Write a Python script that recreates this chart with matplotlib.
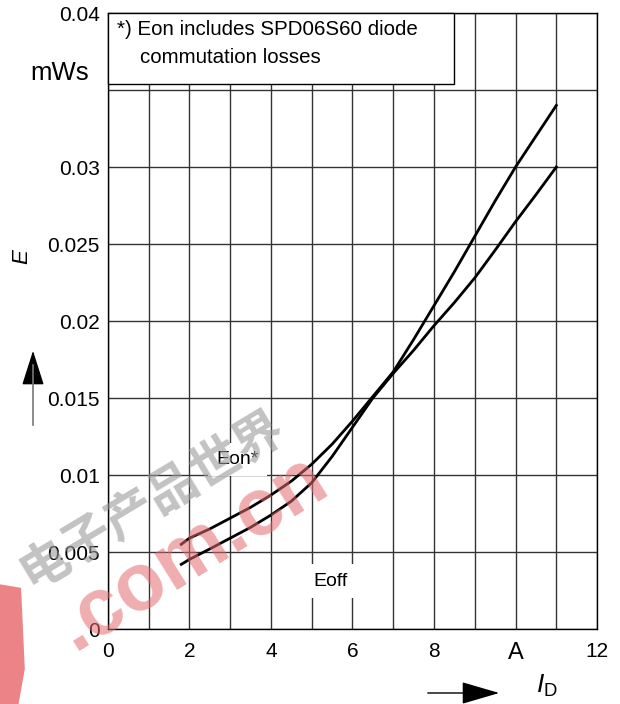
import numpy as np
import matplotlib
matplotlib.use('Agg')
import matplotlib.pyplot as plt
from matplotlib.patches import Rectangle, Polygon
from matplotlib.lines import Line2D

plt.rcParams['font.family'] = ['Liberation Sans', 'DejaVu Sans']
plt.rcParams['mathtext.fontset'] = 'custom'
plt.rcParams['mathtext.rm'] = 'Liberation Sans'
plt.rcParams['mathtext.it'] = 'Liberation Sans:italic'

# drain current (A) and switching energy (mWs)
i_d = [1.8, 2.0, 2.5, 3.0, 3.5, 4.0, 4.5, 5.0, 5.5, 6.0, 6.5,
       7.0, 7.5, 8.0, 8.5, 9.0, 9.5, 10.0, 10.5, 11.0]
e_on = [0.0055, 0.0059, 0.0065, 0.0072, 0.0079, 0.0087, 0.0096, 0.0107, 0.0120, 0.0135, 0.0151,
        0.0167, 0.0188, 0.0210, 0.0232, 0.0255, 0.0278, 0.0300, 0.0320, 0.0340]
e_off = [0.0042, 0.00452, 0.0052, 0.0059, 0.0066, 0.0074, 0.0083, 0.0095, 0.0112, 0.0131, 0.0150,
         0.0166, 0.0181, 0.0197, 0.0212, 0.0228, 0.0246, 0.02645, 0.0282, 0.0300]

x_ticks = [0, 2, 4, 6, 8, 10, 12]
x_labels = ['0', '2', '4', '6', '8', 'A', '12']
y_ticks = [0, 0.005, 0.01, 0.015, 0.02, 0.025, 0.03, 0.035, 0.04]
y_labels = ['0', '0.005', '0.01', '0.015', '0.02', '0.025', '0.03', '', '0.04']
note = '*) Eon includes SPD06S60 diode\n    commutation losses'

fig = plt.figure(figsize=(6.2, 7.04), dpi=100)
ax = fig.add_axes([0.174, 0.1065, 0.789, 0.875])

ax.set_xlim(0, 12)
ax.set_ylim(0, 0.04)
ax.set_xticks(x_ticks)
ax.set_xticklabels(x_labels, fontsize=15)
ax.set_xticks(np.arange(0, 13, 1), minor=True)
ax.set_yticks(y_ticks)
ax.set_yticklabels(y_labels, fontsize=15)
ax.tick_params(which='both', length=0)
ax.tick_params(axis='x', pad=9)
ax.tick_params(axis='y', pad=6)
ax.get_xticklabels()[5].set_fontsize(17)
ax.grid(which='both', color='#333333', linewidth=1.0)
ax.set_axisbelow(True)
for s in ax.spines.values():
    s.set_linewidth(1.0)

ax.plot(i_d, e_on, color='black', lw=2.0, zorder=4, solid_joinstyle='round')
ax.plot(i_d, e_off, color='black', lw=2.0, zorder=4, solid_joinstyle='round')

bbox = dict(facecolor='white', edgecolor='none', pad=6)
ax.text(3.19, 0.0110, 'Eon*', fontsize=14, ha='center', va='center', bbox=bbox, zorder=3)
ax.text(5.45, 0.0031, 'Eoff', fontsize=14, ha='center', va='center', bbox=bbox, zorder=3)

# note box in the top left corner
ax.add_patch(Rectangle((0, 0.03539), 8.49, 0.00461, facecolor='white',
                       edgecolor='black', lw=1.0, zorder=5, clip_on=False))
ax.text(0.22, 0.0380, note, fontsize=14.8, va='center', ha='left', zorder=6,
        linespacing=1.62)

ax.text(-0.098, 0.0361, 'mWs', transform=ax.get_yaxis_transform(),
        fontsize=18.5, ha='center', va='center')

fig.text(0.036, 0.635, '$E$', fontsize=16, rotation=90, ha='center', va='center')
fig.add_artist(Line2D([33 / 620, 33 / 620], [(704 - 425) / 704, (704 - 365) / 704],
                      color='#777777', lw=1.2))
ax.annotate('', xy=(33, 704 - 348), xytext=(33, 704 - 368), xycoords='figure pixels',
            textcoords='figure pixels',
            arrowprops=dict(arrowstyle='-|>,head_length=1.1,head_width=0.35',
                            color='black', lw=1.0, mutation_scale=20))
fig.text(0.882, 0.026, r'$I_\mathrm{D}$', fontsize=19, ha='center', va='center')
ax.annotate('', xy=(502, 704 - 693), xytext=(425, 704 - 693), xycoords='figure pixels',
            textcoords='figure pixels',
            arrowprops=dict(arrowstyle='-|>,head_length=1.2,head_width=0.35',
                            color='black', lw=1.0, mutation_scale=20))

# watermark
fig.text(0.245, 0.29, '电子产品世界', fontsize=36, fontweight='bold', rotation=31,
         color='#9a9a9a', alpha=0.6, ha='center', va='center',
         family=['Noto Sans CJK SC', 'DejaVu Sans'])
fig.text(0.31, 0.215, '.com.cn', fontsize=58, fontweight='bold', rotation=32,
         color='#e26a6e', alpha=0.55, ha='center', va='center')
fig.patches.append(Polygon([[0, 0], [0.03, 0], [0.04, 0.05], [0.034, 0.165], [0, 0.17]],
                           closed=True, transform=fig.transFigure, facecolor='#e65a5e',
                           alpha=0.75, edgecolor='none'))

fig.savefig('out.png', dpi=100)
